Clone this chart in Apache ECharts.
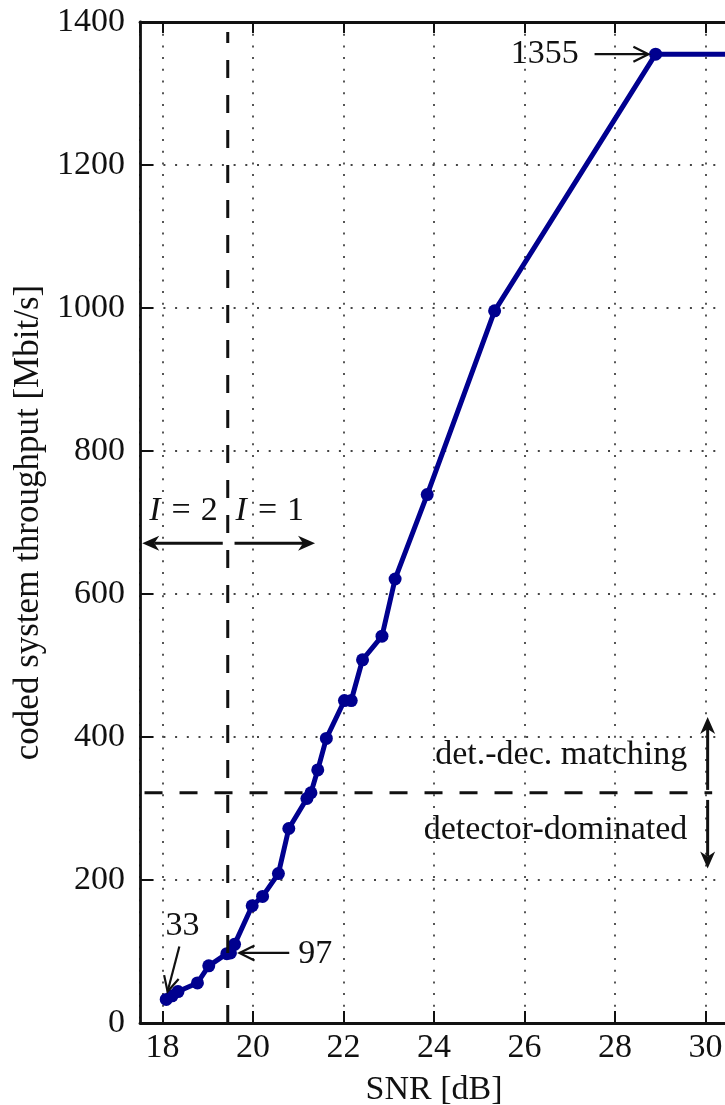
<!DOCTYPE html>
<html>
<head>
<meta charset="utf-8">
<script src="https://cdn.jsdelivr.net/npm/echarts@6/dist/echarts.min.js"></script>
<style>
html,body{margin:0;padding:0;background:#fff;}
#chart{width:725px;height:1105px;}
</style>
</head>
<body>
<div id="chart"></div>
<script>
// ---- data ----
const snr = [18.08, 18.21, 18.34, 18.77, 19.02, 19.42, 19.5, 19.59, 19.98, 20.21, 20.56, 20.79, 21.19, 21.28, 21.43, 21.62, 22.02, 22.17, 22.42, 22.85, 23.14, 23.85, 25.34, 28.9, 31];
const throughput = [33, 38, 44, 56, 80, 97, 98, 110, 164, 177, 209, 272, 314, 322, 354, 398, 451, 451, 508, 541, 621, 739, 996, 1355, 1355];
const xTitle = 'SNR [dB]';
const yTitle = 'coded system throughput [Mbit/s]';
const refSNR = 19.44;      // vertical dashed boundary I=2 / I=1
const refRate = 322;       // horizontal dashed boundary
const labelMax = '1355', labelMid = '97', labelMin = '33';

const FONT = '"Liberation Serif", "Times New Roman", serif';
const FS = 34;
const BLUE = '#00008f';

const chart = echarts.init(document.getElementById('chart'), null, {renderer: 'canvas'});

const gridLine = {show: true, lineStyle: {color: '#444', width: 1.8, type: [2, 9.7]}};
const axisLine = {show: true, onZero: false, lineStyle: {color: '#111', width: 2.8}};

const option = {
  animation: false,
  backgroundColor: '#fff',
  grid: {left: 140, top: 22, bottom: 82, right: -3, containLabel: false, outerBoundsMode: 'none'},
  xAxis: [{
    type: 'value', min: 17.5, max: 30.5, splitNumber: 6,
    name: xTitle, nameLocation: 'middle', nameGap: 50,
    nameTextStyle: {fontFamily: FONT, fontSize: FS, color: '#111'},
    axisLine: axisLine,
    axisTick: {show: true, inside: true, length: 12, lineStyle: {color: '#111', width: 2}},
    axisLabel: {fontFamily: FONT, fontSize: FS, color: '#111', margin: 8, showMinLabel: false, showMaxLabel: false,
      formatter: v => String(v)},
    splitLine: gridLine
  }, {
    type: 'value', min: 17.5, max: 30.5, splitNumber: 6, position: 'top',
    axisLine: axisLine,
    axisTick: {show: true, inside: true, length: 11, lineStyle: {color: '#111', width: 2}},
    axisLabel: {show: false},
    splitLine: {show: false}
  }],
  yAxis: [{
    type: 'value', min: 0, max: 1400, interval: 200,
    name: yTitle, nameLocation: 'middle', nameGap: 88, nameRotate: 90,
    nameTextStyle: {fontFamily: FONT, fontSize: 35, color: '#111'},
    axisLine: axisLine,
    axisTick: {show: true, inside: true, length: 13, lineStyle: {color: '#111', width: 2}},
    axisLabel: {fontFamily: FONT, fontSize: FS, color: '#111', margin: 15, formatter: v => String(v)},
    splitLine: gridLine
  }],
  series: [{
    type: 'line',
    data: snr.map((x, i) => [x, throughput[i]]),
    symbol: 'circle', symbolSize: 13,
    lineStyle: {color: BLUE, width: 5},
    itemStyle: {color: BLUE},
    clip: true, z: 5
  }]
};
chart.setOption(option);

function px(x, y) { return chart.convertToPixel({gridIndex: 0}, [x, y]); }

const els = [];
function line(a, b, w, dash) {
  els.push({type: 'line', z: 10, shape: {x1: a[0], y1: a[1], x2: b[0], y2: b[1]},
    style: {stroke: '#111', lineWidth: w, lineDash: dash || null}});
}
function unit(a, b) { const dx = b[0]-a[0], dy = b[1]-a[1]; const l = Math.hypot(dx, dy); return [dx/l, dy/l]; }
function filledArrow(from, to) {
  const d = unit(from, to), p = [-d[1], d[0]];
  const len = 17, half = 7.5, notch = 5;
  const base = [to[0] - d[0]*(len - notch), to[1] - d[1]*(len - notch)];
  line(from, base, 3);
  els.push({type: 'polygon', z: 11, shape: {points: [
    to,
    [to[0] - d[0]*len + p[0]*half, to[1] - d[1]*len + p[1]*half],
    base,
    [to[0] - d[0]*len - p[0]*half, to[1] - d[1]*len - p[1]*half]
  ]}, style: {fill: '#111'}});
}
function openArrow(from, to) {
  const d = unit(from, to), p = [-d[1], d[0]];
  const len = 15, half = 7.5;
  line(from, to, 2.2);
  els.push({type: 'polyline', z: 11, shape: {points: [
    [to[0] - d[0]*len + p[0]*half, to[1] - d[1]*len + p[1]*half],
    to,
    [to[0] - d[0]*len - p[0]*half, to[1] - d[1]*len - p[1]*half]
  ]}, style: {stroke: '#111', lineWidth: 2.2, fill: null}});
}
function text(pos, str, align, extra) {
  els.push({type: 'text', z: 12, x: pos[0], y: pos[1], style: Object.assign({
    text: str, fontFamily: FONT, fontSize: FS, fill: '#111', align: align, verticalAlign: 'middle'
  }, extra || {})});
}

// dashed boundaries
line(px(refSNR, 0), px(refSNR, 1386), 3, [18, 17]);
line(px(17.6, refRate), px(30.15, refRate), 3, [18, 17]);

// I = 2 / I = 1
const rich = {
  i: {fontStyle: 'italic', fontFamily: FONT, fontSize: FS, fill: '#111'},
  e: {fontFamily: FONT, fontSize: FS, fill: '#111', padding: [0, 10, 0, 11]},
  n: {fontFamily: FONT, fontSize: FS, fill: '#111'}
};
text(px(18.46, 716), '{i|I}{e|=}{n|2}', 'center', {rich: rich});
text(px(20.37, 716), '{i|I}{e|=}{n|1}', 'center', {rich: rich});
filledArrow(px(19.33, 671), px(17.55, 671));
filledArrow(px(19.59, 671), px(21.37, 671));

// regime arrows
filledArrow(px(30.05, 326), px(30.05, 428));
filledArrow(px(30.05, 312), px(30.05, 216));
text(px(29.6, 375), 'det.-dec. matching', 'right');
text(px(29.6, 270), 'detector-dominated', 'right');

// value call-outs
text(px(27.2, 1355), labelMax, 'right');
openArrow(px(27.55, 1355), px(28.74, 1355));
text(px(21.0, 97), labelMid, 'left');
openArrow(px(20.8, 98), px(19.7, 98));
text(px(18.44, 136), labelMin, 'center');
openArrow(px(18.37, 107), px(18.11, 44));

chart.setOption({graphic: {elements: els}});
</script>
</body>
</html>
